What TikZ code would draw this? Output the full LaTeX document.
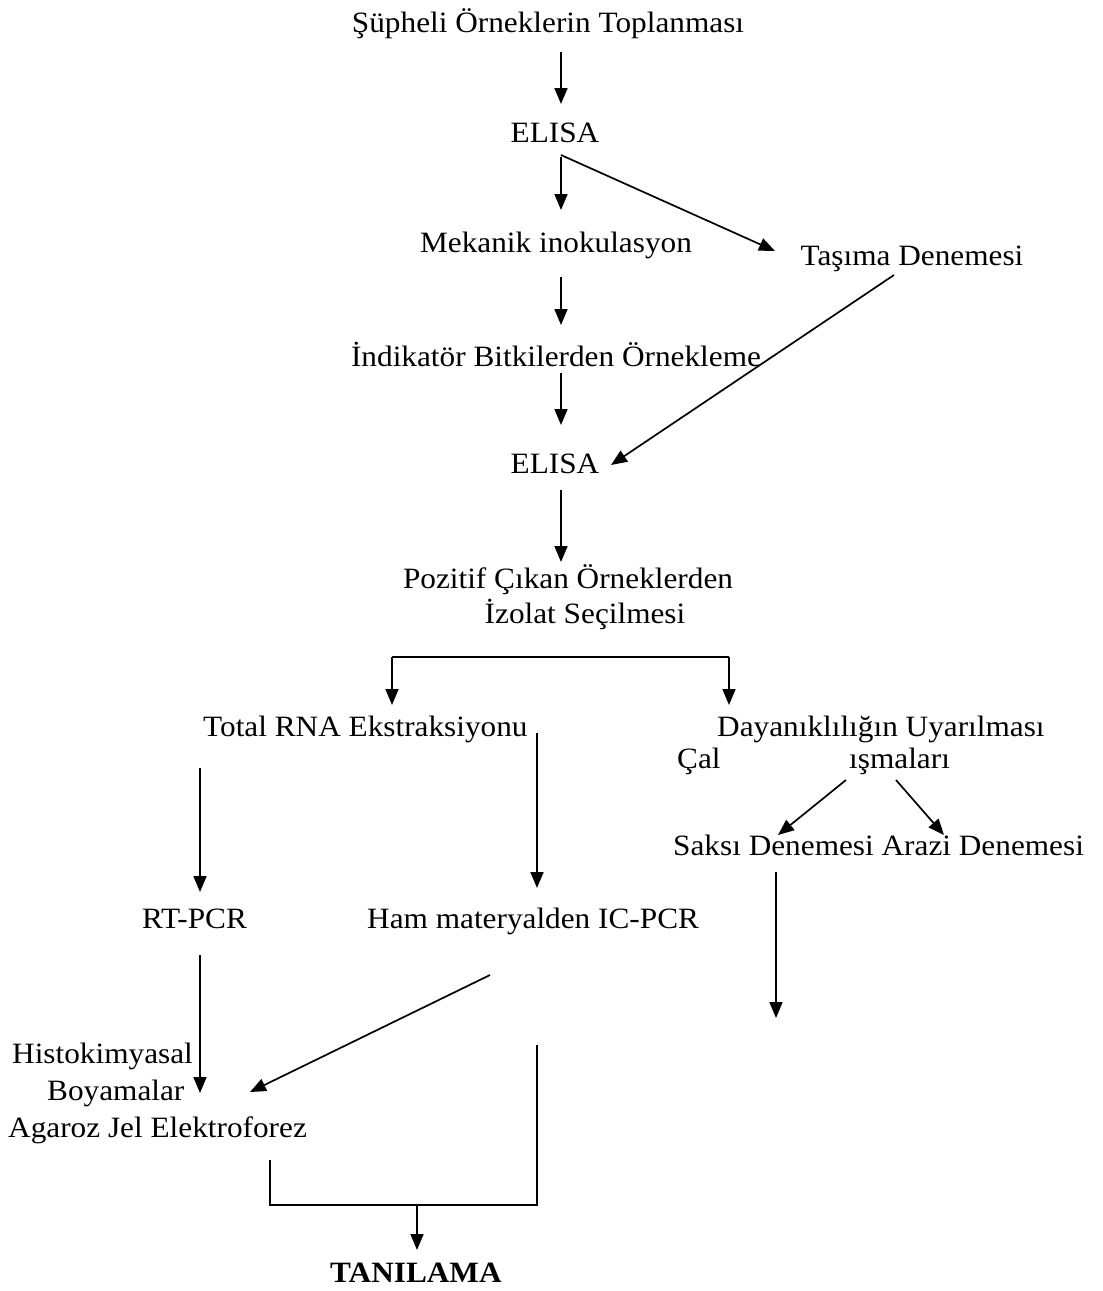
\documentclass[tikz,border=0pt]{standalone}
\usepackage{fontspec}
\setmainfont{Liberation Serif}[FakeStretch=1.06]
\usetikzlibrary{arrows.meta}
\tikzset{
  lbl/.style={inner sep=0pt, anchor=base, font=\fontsize{29.5}{34}\selectfont},
  lblw/.style={lbl, anchor=base west},
  arr/.style={line width=1.7pt, -{Triangle[length=16pt,width=13pt]}},
  ln/.style={line width=1.7pt}
}
\begin{document}
\begin{tikzpicture}[x=1pt,y=-1pt]
\useasboundingbox (0,0) rectangle (1103,1291);
% texts
\node[lbl] (t1) at (548,32) {Şüpheli Örneklerin Toplanması};
\node[lbl] (e1) at (555,142) {ELISA};
\node[lbl] (mek) at (556,252) {Mekanik inokulasyon};
\node[lbl] (tas) at (912,265) {Taşıma Denemesi};
\node[lbl] (ind) at (556,366) {İndikatör Bitkilerden Örnekleme};
\node[lbl] (e2) at (555,473) {ELISA};
\node[lbl] (poz1) at (568,588) {Pozitif Çıkan Örneklerden};
\node[lbl] (poz2) at (585,623) {İzolat Seçilmesi};
\node[lblw] (rna) at (203,736) {Total RNA Ekstraksiyonu};
\node[lblw] (day) at (717,736) {Dayanıklılığın Uyarılması};
\node[lblw] (cal1) at (677,768) {Çal};
\node[lblw] (cal2) at (849,768) {ışmaları};
\node[lblw] (sak) at (673,855) {Saksı Denemesi Arazi Denemesi};
\node[lblw] (rt) at (142,928) {RT-PCR};
\node[lblw] (ham) at (367,928) {Ham materyalden IC-PCR};
\node[lblw] (his) at (12,1063) {Histokimyasal};
\node[lblw] (boy) at (47,1100) {Boyamalar};
\node[lblw] (aga) at (8,1137) {Agaroz Jel Elektroforez};
\node[lblw, font=\fontsize{29.5}{34}\selectfont\bfseries] (tan) at (330,1282) {TANILAMA};
% connector end points
\coordinate (a1s) at (561,52);   \coordinate (a1e) at (561,104);
\coordinate (a2s) at (561,157);  \coordinate (a2e) at (561,210);
\coordinate (d1s) at (561,155);  \coordinate (d1e) at (775,251);
\coordinate (a3s) at (561,277);  \coordinate (a3e) at (561,325);
\coordinate (a4s) at (561,373);  \coordinate (a4e) at (561,425);
\coordinate (d2s) at (894,275);  \coordinate (d2e) at (611,465);
\coordinate (a5s) at (561,490);  \coordinate (a5e) at (561,562);
\coordinate (bl) at (392,657);   \coordinate (br) at (729,657);
\coordinate (ble) at (392,705);  \coordinate (bre) at (729,705);
\coordinate (a6s) at (200,768);  \coordinate (a6e) at (200,892);
\coordinate (a7s) at (537,733);  \coordinate (a7e) at (537,888);
\coordinate (d3s) at (846,780);  \coordinate (d3e) at (778,835);
\coordinate (d4s) at (896,780);  \coordinate (d4e) at (944,835);
\coordinate (a8s) at (776,872);  \coordinate (a8e) at (776,1018);
\coordinate (a9s) at (200,955);  \coordinate (a9e) at (200,1093);
\coordinate (d5s) at (490,975);  \coordinate (d5e) at (250,1092);
\coordinate (k1) at (537,1045);  \coordinate (k2) at (537,1205);
\coordinate (k3) at (270,1205);  \coordinate (k4) at (270,1160);
\coordinate (a10s) at (417,1205); \coordinate (a10e) at (417,1250);
% connectors
\draw[arr] (a1s) -- (a1e);
\draw[arr] (a2s) -- (a2e);
\draw[arr] (d1s) -- (d1e);
\draw[arr] (a3s) -- (a3e);
\draw[arr] (a4s) -- (a4e);
\draw[arr] (d2s) -- (d2e);
\draw[arr] (a5s) -- (a5e);
\draw[ln] (bl) -- (br);
\draw[arr] (bl) -- (ble);
\draw[arr] (br) -- (bre);
\draw[arr] (a6s) -- (a6e);
\draw[arr] (a7s) -- (a7e);
\draw[arr] (d3s) -- (d3e);
\draw[arr] (d4s) -- (d4e);
\draw[arr] (a8s) -- (a8e);
\draw[arr] (a9s) -- (a9e);
\draw[arr] (d5s) -- (d5e);
\draw[ln] (k1) -- (k2) -- (k3) -- (k4);
\draw[arr] (a10s) -- (a10e);
\end{tikzpicture}
\end{document}
